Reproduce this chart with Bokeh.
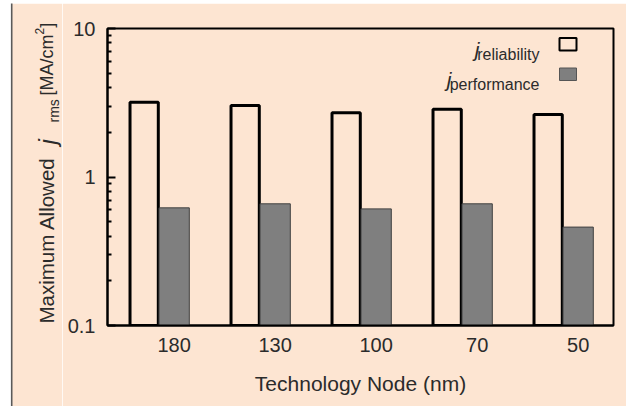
import math
from bokeh.plotting import figure
from bokeh.layouts import row, column
from bokeh.models import Range1d, FixedTicker, CustomJSTickFormatter, Label, ColumnDataSource
from bokeh.embed import file_html
from bokeh.resources import INLINE

# ---------------- data ----------------
nodes = ["180", "130", "100", "70", "50"]
j_reliability = [3.19, 3.03, 2.71, 2.86, 2.64]
j_performance = [0.62, 0.66, 0.61, 0.66, 0.46]
y_ticks = [0.1, 1, 10]
y_minor_ticks = [0.2, 0.3, 0.4, 0.5, 0.6, 0.7, 0.8, 0.9, 2, 3, 4, 5, 6, 7, 8, 9]
x_label = "Technology Node (nm)"
y_label_parts = ["Maximum Allowed", "j", "rms", "[MA/cm", "2", "]"]
legend_names = ["reliability", "performance"]

# ---------------- style ----------------
BG = "#fde5d2"
TEXT = "#2b2b2b"
GRAY = "#7f7f7f"
EDGE = "#5a5a5a"
FONT = "Liberation Sans"

W, H = 626, 406
TOP_H = 3          # height of the top border strip
LEFT_W = 62        # width of the strip holding the y-axis title
FRAME_L, FRAME_R, FRAME_T, FRAME_B = 107, 613, 28, 325   # page px of plot frame
X_START, X_END = -0.66, 4.35
Y_MIN, Y_MAX = 0.1, 10


def x_at(px):
    return X_START + (px - FRAME_L) / (FRAME_R - FRAME_L) * (X_END - X_START)


def y_at(py):
    lo, hi = math.log10(Y_MIN), math.log10(Y_MAX)
    return 10 ** (hi - (py - FRAME_T) / (FRAME_B - FRAME_T) * (hi - lo))


def blank(width, height, xr, yr):
    f = figure(width=width, height=height, x_range=Range1d(*xr), y_range=Range1d(*yr),
               output_backend="svg", toolbar_location=None,
               x_axis_location=None, y_axis_location=None, min_border=0)
    f.frame_align = False
    f.xgrid.visible = False
    f.ygrid.visible = False
    f.outline_line_color = None
    f.background_fill_color = "white"
    f.border_fill_color = "white"
    return f


# ---------------- top border strip ----------------
top = blank(W, TOP_H, (0, W), (TOP_H, 0))
top.quad(left=[11], right=[W], top=[1.2], bottom=[TOP_H], fill_color=BG, line_color=None)
top.segment(x0=[10.5], y0=[1.6], x1=[W], y1=[1.6], line_color=EDGE, line_width=1.6)

# ---------------- left strip with y-axis title ----------------
left = blank(LEFT_W, H - TOP_H, (0, LEFT_W), (H, TOP_H))
left.quad(left=[11], right=[LEFT_W], top=[TOP_H], bottom=[H], fill_color=BG, line_color=None)
left.segment(x0=[11.2], y0=[0], x1=[11.2], y1=[H], line_color=EDGE, line_width=1.6)


def ytitle(text, px, py, size, italic=False):
    left.add_layout(Label(x=px, y=py, text=text, text_font=FONT, text_font_size=f"{size}px",
                          text_font_style="italic" if italic else "normal",
                          angle=math.pi / 2, text_align="left", text_baseline="alphabetic",
                          text_color=TEXT))


ytitle(y_label_parts[0], 46, 323, 20.5)
ytitle(y_label_parts[1], 47, 144, 24, italic=True)
ytitle(y_label_parts[2], 53, 122, 14)
ytitle(y_label_parts[3], 46, 95, 18)
ytitle(y_label_parts[4], 39, 34, 12)
ytitle(y_label_parts[5], 46, 27.3, 18)

# ---------------- main chart ----------------
idx = list(range(len(nodes)))
rel_src = ColumnDataSource(dict(x=[i - 0.297 for i in idx], top=j_reliability,
                                bottom=[Y_MIN] * len(idx)))
perf_src = ColumnDataSource(dict(x=idx, top=j_performance, bottom=[Y_MIN] * len(idx)))

p = figure(width=W - LEFT_W, height=H - TOP_H, y_axis_type="log",
           x_range=Range1d(X_START, X_END), y_range=Range1d(Y_MIN, Y_MAX),
           output_backend="svg", toolbar_location=None,
           min_border_left=FRAME_L - LEFT_W, min_border_right=W - FRAME_R,
           min_border_top=FRAME_T - TOP_H, min_border_bottom=H - FRAME_B)
p.frame_align = False
p.background_fill_color = BG
p.border_fill_color = BG
p.outline_line_color = "black"
p.outline_line_width = 2
p.xgrid.visible = False
p.ygrid.visible = False

p.vbar(x="x", top="top", bottom="bottom", width=0.28, source=rel_src,
       fill_color=None, line_color="black", line_width=3)
p.vbar(x="x", top="top", bottom="bottom", width=0.30, source=perf_src,
       fill_color=GRAY, line_color="#404040", line_width=1)

# x axis
p.xaxis.ticker = FixedTicker(ticks=idx)
p.xaxis.major_label_overrides = {i: n for i, n in zip(idx, nodes)}
p.xaxis.major_tick_line_color = None
p.xaxis.minor_tick_line_color = None
p.xaxis.axis_line_width = 2
p.xaxis.major_label_standoff = 6
p.xaxis.major_label_text_font = FONT
p.xaxis.major_label_text_font_size = "20px"
p.xaxis.major_label_text_color = TEXT
p.xaxis.axis_label = x_label
p.xaxis.axis_label_text_font = FONT
p.xaxis.axis_label_text_font_size = "21px"
p.xaxis.axis_label_text_font_style = "normal"
p.xaxis.axis_label_text_color = TEXT
p.xaxis.axis_label_standoff = 17

# y axis
p.yaxis.ticker = FixedTicker(ticks=y_ticks, minor_ticks=y_minor_ticks)
p.yaxis.formatter = CustomJSTickFormatter(code="return tick.toString()")
p.yaxis.axis_line_width = 2
p.yaxis.major_tick_in = 8
p.yaxis.major_tick_out = 0
p.yaxis.minor_tick_in = 4
p.yaxis.minor_tick_out = 0
p.yaxis.major_tick_line_width = 2
p.yaxis.minor_tick_line_width = 2
p.yaxis.major_label_standoff = 12
p.yaxis.major_label_text_font = FONT
p.yaxis.major_label_text_font_size = "20px"
p.yaxis.major_label_text_color = TEXT


def legend_text(text, px, py, size, italic=False):
    p.add_layout(Label(x=x_at(px), y=y_at(py), text=text, text_font=FONT,
                       text_font_size=f"{size}px",
                       text_font_style="italic" if italic else "normal",
                       text_align="right", text_baseline="alphabetic", text_color=TEXT))


# legend: label left, swatch right
legend_text(legend_names[0], 539, 54, 16)
legend_text("j", 479, 49, 21, italic=True)
legend_text(legend_names[1], 539, 84, 16)
legend_text("j", 451, 79, 21, italic=True)

p.quad(left=[x_at(559)], right=[x_at(576)], top=[y_at(37.5)], bottom=[y_at(50)],
       fill_color=None, line_color="black", line_width=2)
p.quad(left=[x_at(559)], right=[x_at(576)], top=[y_at(67.5)], bottom=[y_at(80)],
       fill_color=GRAY, line_color="#555555", line_width=1)

layout = column(top, row(left, p, spacing=0), spacing=0)
open("out.html", "w").write(file_html(layout, INLINE))
